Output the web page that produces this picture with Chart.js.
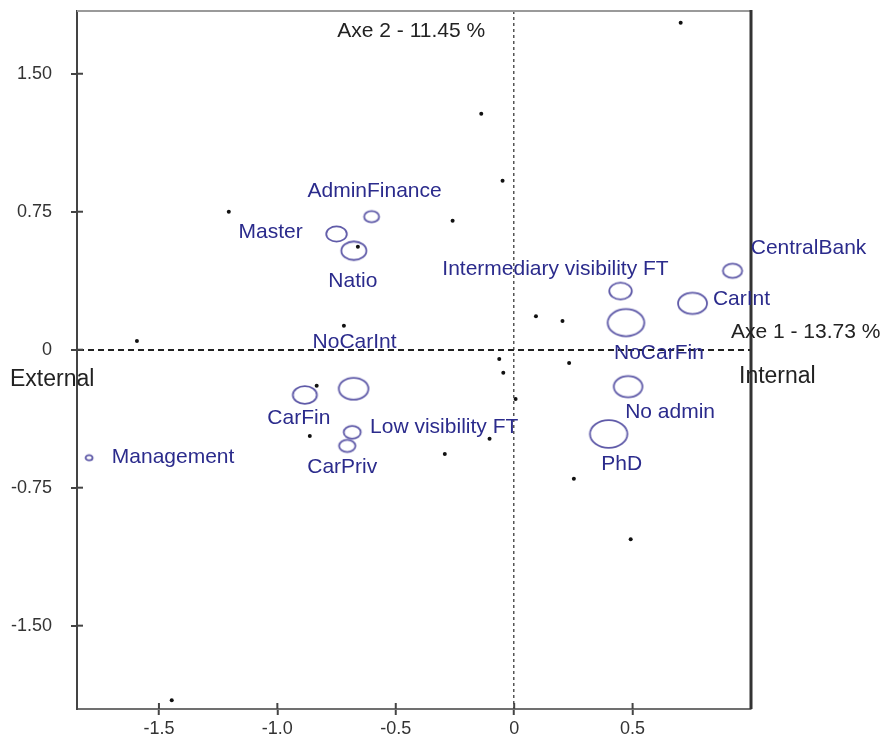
<!DOCTYPE html>
<html>
<head>
<meta charset="utf-8">
<title>Correspondence analysis - axes 1 and 2</title>
<script src="https://cdn.jsdelivr.net/npm/chart.js@4.4.1/dist/chart.umd.min.js"></script>
<style>
  html, body { margin: 0; padding: 0; background: #fff; }
  #wrap { width: 884px; height: 734px; }
</style>
</head>
<body>
<div id="wrap"><canvas id="chart"></canvas></div>
<script>
// Modalities (open circles)
const categories = ['AdminFinance', 'Master', 'Natio', 'CarFin', 'NoCarInt', 'Low visibility FT', 'CarPriv',
  'Management', 'CentralBank', 'Intermediary visibility FT', 'CarInt', 'NoCarFin', 'No admin', 'PhD'];
const catAxis1 = [-0.602, -0.750, -0.677, -0.884, -0.678, -0.684, -0.705, -1.795, 0.922, 0.449, 0.753, 0.472, 0.481, 0.399];
const catAxis2 = [0.723, 0.629, 0.538, -0.246, -0.212, -0.449, -0.523, -0.587, 0.429, 0.319, 0.252, 0.147, -0.201, -0.458];
const catMass = [3.2, 6.0, 8.9, 8.2, 12.4, 4.1, 3.8, 0.7, 5.3, 7.2, 11.9, 19.0, 11.6, 19.8];

// Individuals (small dots)
const indAxis1 = [0.703, -0.139, -0.049, -1.205, -0.260, -0.660, -0.719, -1.593, 0.092, 0.204, -0.063,
  -0.046, 0.006, -0.104, -0.293, -0.834, -0.863, 0.232, 0.252, 0.492, -1.446];
const indAxis2 = [1.777, 1.283, 0.918, 0.750, 0.701, 0.560, 0.130, 0.047, 0.182, 0.156, -0.051,
  -0.125, -0.268, -0.484, -0.567, -0.196, -0.469, -0.072, -0.701, -1.030, -1.905];

// Ticks
const xTicks = [-1.5, -1.0, -0.5, 0, 0.5];
const xTickLabels = ['-1.5', '-1.0', '-0.5', '0', '0.5'];
const yTicks = [-1.5, -0.75, 0, 0.75, 1.5];
const yTickLabels = ['-1.50', '-0.75', '0', '0.75', '1.50'];

// where each label sits relative to its circle (px)
const labelOffsets = [[3, -25], [-66, -2], [-1, 30], [-6, 23], [1, -46], [92, -5], [-5, 21],
  [84, 0], [76, -23], [-65, -22], [49, -4], [33, 31], [42, 26], [13, 30]];

const FONT = '"Liberation Sans", Arial, sans-serif';
Chart.defaults.font.family = FONT;

// ellipse marker, area proportional to mass
function ellipseMarker(mass) {
  const rx = 4.2 * Math.sqrt(mass);
  const ry = rx * 0.74;
  const c = document.createElement('canvas');
  c.width = Math.ceil(rx * 2 + 4);
  c.height = Math.ceil(ry * 2 + 4);
  const g = c.getContext('2d');
  g.strokeStyle = '#5f5aa8';
  g.lineWidth = 1.8;
  g.beginPath();
  g.ellipse(c.width / 2, c.height / 2, rx, ry, 0, 0, Math.PI * 2);
  g.stroke();
  return c;
}

const decorations = {
  id: 'decorations',
  afterDraw(chart) {
    const { ctx, chartArea: a, scales: { x, y } } = chart;
    const x0 = x.getPixelForValue(0);
    const y0 = y.getPixelForValue(0);
    ctx.save();
    const line = (x1, y1, x2, y2) => { ctx.beginPath(); ctx.moveTo(x1, y1); ctx.lineTo(x2, y2); ctx.stroke(); };

    // frame: top and right
    ctx.strokeStyle = '#9a9a9a';
    ctx.lineWidth = 2;
    line(a.left, a.top, a.right, a.top);
    ctx.strokeStyle = '#333';
    ctx.lineWidth = 3;
    line(a.right, a.top - 1, a.right, a.bottom);

    // inner half of the tick marks
    ctx.strokeStyle = '#444';
    ctx.lineWidth = 2;
    xTicks.forEach(v => { const px = x.getPixelForValue(v); line(px, a.bottom, px, a.bottom - 6); });
    yTicks.forEach(v => { const py = y.getPixelForValue(v); line(a.left, py, a.left + 6, py); });

    // modality labels
    const meta = chart.getDatasetMeta(1);
    ctx.font = '21px ' + FONT;
    ctx.fillStyle = '#2b2b8c';
    ctx.textAlign = 'center';
    ctx.textBaseline = 'middle';
    meta.data.forEach((pt, i) => {
      const [dx, dy] = labelOffsets[i];
      ctx.fillText(categories[i], pt.x + dx, pt.y + dy);
    });

    // axis names
    ctx.fillStyle = '#222';
    ctx.font = '21px ' + FONT;
    ctx.textAlign = 'right';
    ctx.fillText('Axe 2 - 11.45 %', x0 - 29, a.top + 20);
    ctx.textAlign = 'left';
    ctx.fillText('Axe 1 - 13.73 %', a.right - 20, y0 - 17);
    ctx.font = '23px ' + FONT;
    ctx.fillText('Internal', a.right - 12, y0 + 27);
    ctx.fillText('External', 10, y0 + 30);
    ctx.restore();
  }
};

new Chart(document.getElementById('chart'), {
  type: 'scatter',
  data: {
    datasets: [
      {
        label: 'Individuals',
        data: indAxis1.map((v, i) => ({ x: v, y: indAxis2[i] })),
        pointStyle: 'circle',
        pointRadius: 2,
        pointBackgroundColor: '#111',
        pointBorderWidth: 0
      },
      {
        label: 'Modalities',
        data: catAxis1.map((v, i) => ({ x: v, y: catAxis2[i] })),
        pointStyle: catMass.map(ellipseMarker),
        pointRadius: 6
      }
    ]
  },
  options: {
    responsive: true,
    maintainAspectRatio: false,
    animation: false,
    events: [],
    layout: { padding: { top: 11, right: 133, left: 0, bottom: 0 } },
    plugins: { legend: { display: false }, tooltip: { enabled: false } },
    scales: {
      x: {
        type: 'linear',
        min: -1.846,
        max: 1.0,
        afterBuildTicks: s => { s.ticks = xTicks.map(v => ({ value: v })); },
        afterFit: s => { s.height = 25; s.paddingLeft = 0; s.paddingRight = 0; },
        ticks: {
          autoSkip: false,
          maxRotation: 0,
          padding: 3,
          color: '#333',
          font: { size: 18 },
          callback: (v, i) => xTickLabels[i]
        },
        grid: {
          color: c => (c.tick && c.tick.value === 0 ? '#555' : 'transparent'),
          lineWidth: 1.5,
          tickLength: 6,
          tickColor: '#444',
          tickWidth: 2
        },
        border: { color: '#707070', width: 2, dash: [3, 3] }
      },
      y: {
        type: 'linear',
        min: -1.953,
        max: 1.841,
        afterBuildTicks: s => { s.ticks = yTicks.map(v => ({ value: v })); },
        afterFit: s => { s.width = 77; s.paddingTop = 0; s.paddingBottom = 0; },
        ticks: {
          autoSkip: false,
          padding: 19,
          color: '#333',
          font: { size: 18 },
          callback: (v, i) => yTickLabels[i]
        },
        grid: {
          color: c => (c.tick && c.tick.value === 0 ? '#222' : 'transparent'),
          lineWidth: 2,
          tickLength: 6,
          tickColor: '#444',
          tickWidth: 2
        },
        border: { color: '#444', width: 2, dash: [6, 4] }
      }
    }
  },
  plugins: [decorations]
});
</script>
</body>
</html>
